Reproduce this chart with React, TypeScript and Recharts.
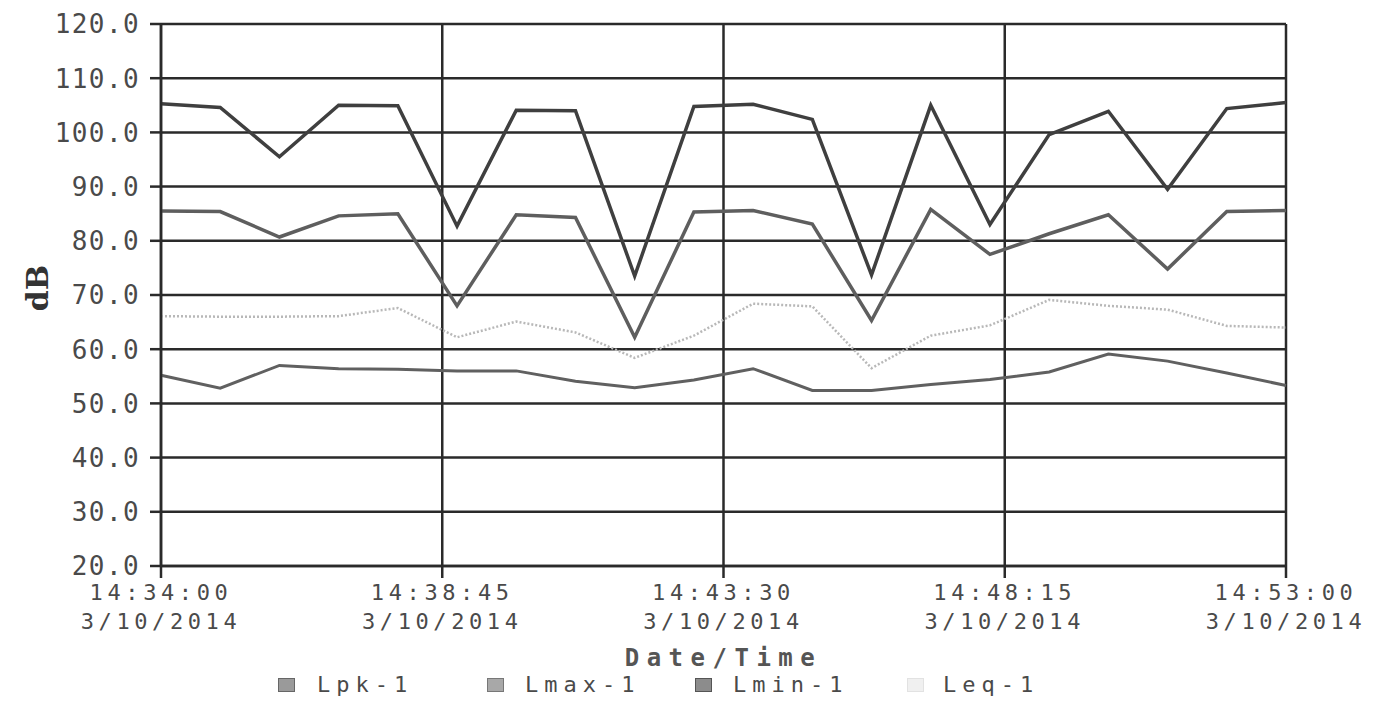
import { LineChart, Line, XAxis, YAxis, CartesianGrid, Legend } from "recharts";

// seconds since 14:34:00, one reading per minute
const times = [0, 60, 120, 180, 240, 300, 360, 420, 480, 540, 600, 660, 720, 780, 840, 900, 960, 1020, 1080, 1140];

const lpk = [105.3, 104.6, 95.5, 105, 104.9, 82.7, 104.1, 104, 73.5, 104.8, 105.2, 102.4, 73.7, 105, 83, 99.6, 103.9, 89.5, 104.4, 105.5];
const lmax = [85.5, 85.4, 80.7, 84.6, 85, 68, 84.8, 84.3, 62.2, 85.3, 85.6, 83.1, 65.3, 85.8, 77.5, 81.3, 84.8, 74.8, 85.4, 85.6];
const lmin = [55.2, 52.8, 57, 56.4, 56.3, 56, 56, 54.1, 52.9, 54.3, 56.4, 52.4, 52.4, 53.5, 54.4, 55.8, 59.1, 57.8, 55.6, 53.3];
const leq = [66.1, 66, 66, 66.1, 67.6, 62.2, 65.1, 63.1, 58.4, 62.5, 68.4, 67.9, 56.5, 62.5, 64.4, 69.1, 68, 67.3, 64.3, 64];

const xTicks = [0, 285, 570, 855, 1140];
const xTickTimes = ["14:34:00", "14:38:45", "14:43:30", "14:48:15", "14:53:00"];
const xTickDate = "3/10/2014";
const yTicks = [20, 30, 40, 50, 60, 70, 80, 90, 100, 110, 120];

const seriesNames = ["Lpk-1", "Lmax-1", "Lmin-1", "Leq-1"];

const data = times.map((t, i) => ({
  t,
  "Lpk-1": lpk[i],
  "Lmax-1": lmax[i],
  "Lmin-1": lmin[i],
  "Leq-1": leq[i],
}));

const MONO = "'DejaVu Sans Mono', monospace";
const INK = "#4a4a4a";
const GRID = "#2a2a2a";

// legend layout (x of marker and label inside the legend box)
const legendLayout = [
  { marker: 270, label: 309, fill: "#9a9a9a", stroke: "#666" },
  { marker: 479, label: 517, fill: "#a8a8a8", stroke: "#777" },
  { marker: 687, label: 725, fill: "#8c8c8c", stroke: "#555" },
  { marker: 899, label: 935, fill: "#f0f0f0", stroke: "#e2e2e2" },
];

function TimeTick(props: any) {
  const { x, y, payload } = props;
  const i = xTicks.indexOf(payload.value);
  return (
    <g>
      <text x={x} y={y + 18} textAnchor="middle" fontFamily={MONO} fontSize={22} letterSpacing={4.6} fill={INK}>
        {xTickTimes[i]}
      </text>
      <text x={x} y={y + 47} textAnchor="middle" fontFamily={MONO} fontSize={22} letterSpacing={4.6} fill={INK}>
        {xTickDate}
      </text>
    </g>
  );
}

function DbTick(props: any) {
  const { x, y, payload } = props;
  return (
    <text x={x} y={y} dy="0.36em" textAnchor="end" fontFamily={MONO} fontSize={26} letterSpacing={1.4} fill={INK}>
      {Number(payload.value).toFixed(1)}
    </text>
  );
}

function DbLabel(props: any) {
  const { viewBox } = props;
  const cx = viewBox.x + 16;
  const cy = viewBox.y + viewBox.height / 2 - 7;
  return (
    <text
      x={cx}
      y={cy}
      transform={`rotate(-90 ${cx} ${cy})`}
      textAnchor="middle"
      dominantBaseline="central"
      fontFamily="'DejaVu Serif', serif"
      fontWeight="bold"
      fontSize={30}
      fill="#333"
    >
      dB
    </text>
  );
}

function renderLegend() {
  return (
    <div style={{ position: "relative", height: 24, fontFamily: MONO, fontSize: 22, color: INK }}>
      {seriesNames.map((name, i) => (
        <div key={name}>
          <div
            style={{
              position: "absolute",
              left: legendLayout[i].marker,
              top: 4,
              width: 15,
              height: 12,
              background: legendLayout[i].fill,
              border: `1px solid ${legendLayout[i].stroke}`,
            }}
          />
          <div style={{ position: "absolute", left: legendLayout[i].label, top: -2, letterSpacing: 6, whiteSpace: "nowrap" }}>
            {name}
          </div>
        </div>
      ))}
    </div>
  );
}

export default function App() {
  return (
    <div style={{ width: 1371, height: 694, background: "#fff" }}>
      <LineChart width={1371} height={694} data={data} margin={{ top: 16, right: 93, left: 13, bottom: 4 }}>
        <CartesianGrid stroke={GRID} strokeWidth={2.5} />
        <XAxis
          type="number"
          dataKey="t"
          domain={[0, 1140]}
          ticks={xTicks}
          interval={0}
          height={108}
          tickSize={12}
          tickMargin={4}
          tick={<TimeTick />}
          axisLine={{ stroke: GRID, strokeWidth: 2.5 }}
          tickLine={{ stroke: GRID, strokeWidth: 2.5 }}
          label={{
            value: "Date/Time",
            position: "insideBottom",
            offset: 8,
            style: { fontFamily: MONO, fontSize: 24, fontWeight: "bold", letterSpacing: 7.5, fill: "#555" },
          }}
        />
        <YAxis
          domain={[20, 120]}
          ticks={yTicks}
          interval={0}
          width={140}
          tickSize={11}
          tickMargin={10}
          tick={<DbTick />}
          axisLine={{ stroke: GRID, strokeWidth: 2.5 }}
          tickLine={{ stroke: GRID, strokeWidth: 2.5 }}
          label={<DbLabel />}
        />
        <Legend verticalAlign="bottom" height={24} wrapperStyle={{ left: 0, width: 1371 }} content={renderLegend} />
        <Line dataKey="Lpk-1" stroke="#3f3f3f" strokeWidth={3.5} dot={false} activeDot={false} isAnimationActive={false} />
        <Line dataKey="Lmax-1" stroke="#5e5e5e" strokeWidth={3.5} dot={false} activeDot={false} isAnimationActive={false} />
        <Line dataKey="Lmin-1" stroke="#606060" strokeWidth={3} dot={false} activeDot={false} isAnimationActive={false} />
        <Line
          dataKey="Leq-1"
          stroke="#b8b8b8"
          strokeWidth={2.5}
          strokeDasharray="2 2"
          dot={false}
          activeDot={false}
          isAnimationActive={false}
        />
      </LineChart>
    </div>
  );
}
